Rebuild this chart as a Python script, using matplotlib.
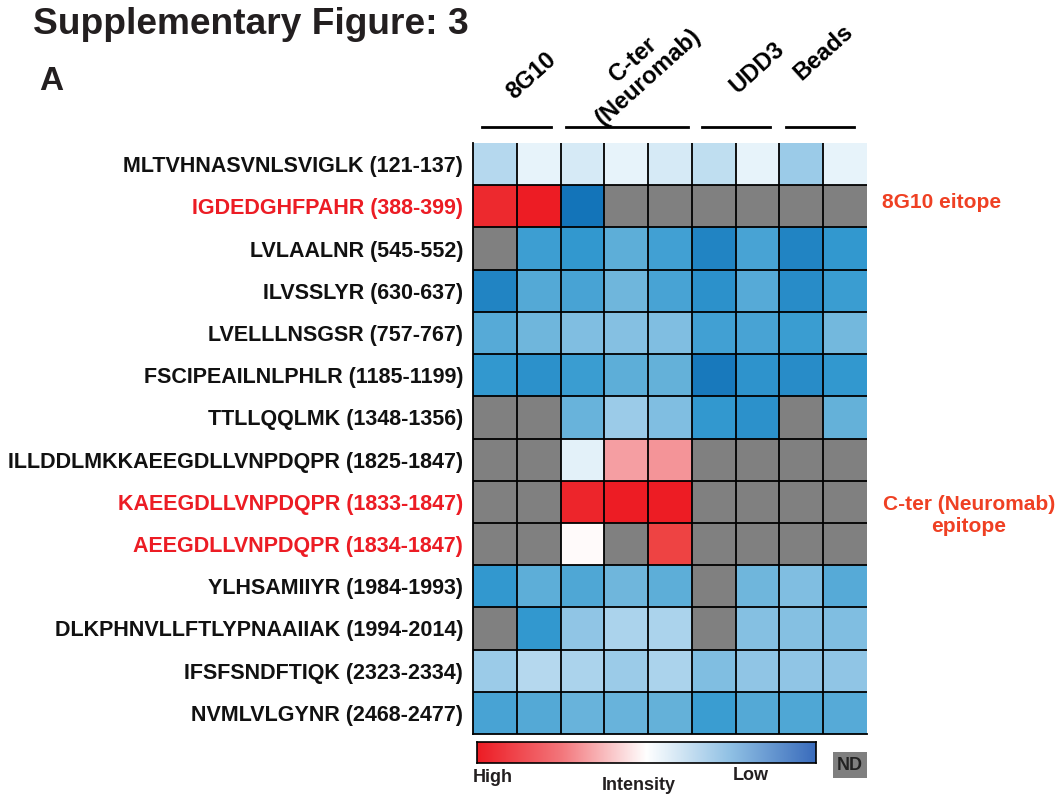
import numpy as np
import matplotlib
matplotlib.use("Agg")
import matplotlib.pyplot as plt
from matplotlib.colors import LinearSegmentedColormap
from matplotlib.lines import Line2D
from matplotlib.patches import Rectangle

plt.rcParams['font.family'] = ['Liberation Sans', 'DejaVu Sans']

# ---------------- data ----------------
peptides = [
    "MLTVHNASVNLSVIGLK (121-137)",
    "IGDEDGHFPAHR (388-399)",
    "LVLAALNR (545-552)",
    "ILVSSLYR (630-637)",
    "LVELLLNSGSR (757-767)",
    "FSCIPEAILNLPHLR (1185-1199)",
    "TTLLQQLMK (1348-1356)",
    "ILLDDLMKKAEEGDLLVNPDQPR (1825-1847)",
    "KAEEGDLLVNPDQPR (1833-1847)",
    "AEEGDLLVNPDQPR (1834-1847)",
    "YLHSAMIIYR (1984-1993)",
    "DLKPHNVLLFTLYPNAAIIAK (1994-2014)",
    "IFSFSNDFTIQK (2323-2334)",
    "NVMLVLGYNR (2468-2477)",
]
highlighted = [1, 8, 9]
groups = ["8G10", "C-ter\n(Neuromab)", "UDD3", "Beads"]
group_sizes = [2, 3, 2, 2]

nan = np.nan
# relative intensity (0 = low, 1 = high); nan = not detected (ND)
intensity = np.array([
    [0.42, 0.48, 0.46, 0.48, 0.46, 0.43, 0.48, 0.39, 0.48],
    [0.96, 1.00, 0.02, nan,  nan,  nan,  nan,  nan,  nan ],
    [nan,  0.19, 0.16, 0.28, 0.20, 0.08, 0.22, 0.08, 0.16],
    [0.08, 0.25, 0.22, 0.31, 0.22, 0.13, 0.26, 0.11, 0.18],
    [0.26, 0.31, 0.34, 0.35, 0.34, 0.20, 0.22, 0.18, 0.32],
    [0.16, 0.13, 0.18, 0.28, 0.29, 0.04, 0.14, 0.11, 0.16],
    [nan,  nan,  0.30, 0.39, 0.34, 0.16, 0.13, nan,  0.29],
    [nan,  nan,  0.475, 0.70, 0.72, nan, nan,  nan,  nan ],
    [nan,  nan,  0.97, 1.00, 1.00, nan,  nan,  nan,  nan ],
    [nan,  nan,  0.51, nan,  0.88, nan,  nan,  nan,  nan ],
    [0.16, 0.28, 0.24, 0.31, 0.28, nan,  0.31, 0.34, 0.26],
    [nan,  0.16, 0.37, 0.41, 0.41, nan,  0.35, 0.35, 0.34],
    [0.39, 0.42, 0.41, 0.39, 0.41, 0.34, 0.37, 0.37, 0.37],
    [0.22, 0.25, 0.30, 0.30, 0.29, 0.18, 0.25, 0.24, 0.26],
])

# ---------------- styles ----------------
W, H = 1058, 798
fig = plt.figure(figsize=(W / 100, H / 100), dpi=100)

def fx(px):
    return px / W

def fy(py):
    return 1 - py / H

cell_cmap = LinearSegmentedColormap.from_list("cells", [
    (0.00, "#0f6fb6"), (0.16, "#3399d0"), (0.28, "#5eaed8"),
    (0.39, "#9ccbe8"), (0.48, "#e8f4fa"), (0.50, "#ffffff"),
    (0.70, "#f59fa3"), (0.88, "#ee4444"), (1.00, "#ed1c24")])
cell_cmap.set_bad("#808080")

bar_cmap = LinearSegmentedColormap.from_list("bar", [
    (0.0, "#ed1c24"), (0.25, "#f3777c"), (0.5, "#ffffff"),
    (0.75, "#8fc0e4"), (1.0, "#3a6cbc")])

TEXT = "#231f20"
RED = "#ec1c24"
ORANGE = "#ef4023"

# ---------------- heatmap ----------------
x0, x1, y0, y1 = 473, 867, 143, 734
ax = fig.add_axes([fx(x0), fy(y1), fx(x1) - fx(x0), fy(y0) - fy(y1)])
nrow, ncol = intensity.shape
ax.set_facecolor("#808080")
ax.pcolormesh(np.ma.masked_invalid(intensity), cmap=cell_cmap, vmin=0, vmax=1)
ax.set_xlim(0, ncol)
ax.set_ylim(nrow, 0)
for i in range(1, nrow):
    ax.axhline(i, color="black", lw=1.3)
for j in range(1, ncol):
    ax.axvline(j, color="black", lw=1.3)
for s in ["top", "right"]:
    ax.spines[s].set_visible(False)
ax.spines["left"].set_linewidth(1.3)
ax.spines["bottom"].set_linewidth(1.3)
ax.set_xticks([])
ax.set_yticks(np.arange(nrow) + 0.5)
ax.set_yticklabels(peptides, fontsize=15.5, fontweight="bold")
ax.tick_params(axis="y", length=0, pad=7)
for i, t in enumerate(ax.get_yticklabels()):
    t.set_color(RED if i in highlighted else "#111111")

# ---------------- group headers ----------------
line_spans = [(482, 551), (566, 688), (702, 770), (786, 854)]
label_pos = [(531, 76), (641, 68), (757, 68), (823, 52)]
for g, (a, b), (cx, cy) in zip(groups, line_spans, label_pos):
    fig.add_artist(Line2D([fx(a), fx(b)], [fy(127), fy(127)], color="black", lw=2))
    fig.text(fx(cx), fy(cy), g, rotation=42, ha="center", va="center",
             fontsize=17, fontweight="bold", color="black",
             multialignment="center", linespacing=1.0)

# ---------------- titles ----------------
fig.text(fx(33), fy(24), "Supplementary Figure: 3", fontsize=26.7, fontweight="bold",
         color=TEXT, ha="left", va="center")
fig.text(fx(39), fy(82), "A", fontsize=24, fontweight="bold", color=TEXT,
         ha="left", va="center")

# ---------------- right annotations ----------------
fig.text(fx(882), fy(202), "8G10 eitope", fontsize=15, fontweight="bold",
         color=ORANGE, ha="left", va="center")
fig.text(fx(969), fy(515), "C-ter (Neuromab)\nepitope", fontsize=15, fontweight="bold",
         color=ORANGE, ha="center", va="center", multialignment="center",
         linespacing=1.2)

# ---------------- colour bar ----------------
cax = fig.add_axes([fx(477), fy(763), fx(816) - fx(477), fy(742) - fy(763)])
cax.imshow(np.linspace(0, 1, 256)[None, :], cmap=bar_cmap, aspect="auto",
           extent=[0, 1, 0, 1])
cax.set_xticks([])
cax.set_yticks([])
for s in cax.spines.values():
    s.set_linewidth(1.2)
fig.text(fx(473), fy(777), "High", fontsize=13, fontweight="bold", color=TEXT,
         ha="left", va="center")
fig.text(fx(639), fy(786), "Intensity", fontsize=13, fontweight="bold", color=TEXT,
         ha="center", va="center")
fig.text(fx(751), fy(776), "Low", fontsize=13, fontweight="bold", color=TEXT,
         ha="center", va="center")
fig.add_artist(Rectangle((fx(833), fy(778)), fx(867) - fx(833), fy(752) - fy(778),
                         transform=fig.transFigure, facecolor="#7f7f7f",
                         edgecolor="none"))
fig.text(fx(850), fy(765), "ND", fontsize=13, fontweight="bold", color="#222222",
         ha="center", va="center")

fig.savefig("out.png", dpi=100)
